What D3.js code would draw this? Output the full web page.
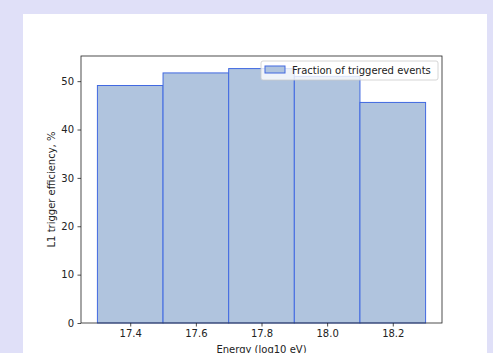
<!DOCTYPE html>
<html>
<head>
<meta charset="utf-8">
<script src="https://cdn.jsdelivr.net/npm/d3@7"></script>
<style>
  html, body { margin: 0; padding: 0; background: #e0e0f8; }
  svg { display: block; }
</style>
</head>
<body>
<svg id="chart" width="493" height="353"></svg>
<script>
// bins of log10(E), 0.2 wide
const binEdges = [17.3, 17.5, 17.7, 17.9, 18.1, 18.3]
const efficiency = [49.1, 51.7, 52.6, 51.0, 45.6]
const xTicks = [17.4, 17.6, 17.8, 18.0, 18.2]
const yTicks = [0, 10, 20, 30, 40, 50]
const legendLabel = "Fraction of triggered events"

const bins = efficiency.map((v, i) => ({ x0: binEdges[i], x1: binEdges[i + 1], value: v }))

const svg = d3.select("#chart")
  .style("font-family", "'DejaVu Sans', sans-serif")

// white figure panel
svg.append("rect")
  .attr("x", 23).attr("y", 14)
  .attr("width", 464).attr("height", 348)
  .attr("fill", "white")

const margin = { top: 56, right: 442, bottom: 323, left: 81 }

const x = d3.scaleLinear()
  .domain([17.25, 18.35])
  .range([margin.left, margin.right])

const y = d3.scaleLinear()
  .domain([0, 55.2])
  .range([margin.bottom, margin.top])

svg.append("g")
  .selectAll("rect")
  .data(bins)
  .join("rect")
  .attr("x", d => x(d.x0))
  .attr("y", d => y(d.value))
  .attr("width", d => x(d.x1) - x(d.x0))
  .attr("height", d => y(0) - y(d.value))
  .attr("fill", "lightsteelblue")
  .attr("stroke", "royalblue")
  .attr("stroke-width", 1)

// axes
const xAxis = svg.append("g")
  .attr("transform", `translate(0,${margin.bottom})`)
  .call(d3.axisBottom(x).tickValues(xTicks).tickFormat(d3.format(".1f")).tickSize(3.5).tickPadding(3.5))
const yAxis = svg.append("g")
  .attr("transform", `translate(${margin.left},0)`)
  .call(d3.axisLeft(y).tickValues(yTicks).tickSize(3.5).tickPadding(3.5))

for (const ax of [xAxis, yAxis]) {
  ax.select(".domain").remove()
  ax.selectAll("text").attr("font-size", 10).attr("fill", "#222").attr("font-family", "'DejaVu Sans', sans-serif")
  ax.selectAll("line").attr("stroke", "#222").attr("stroke-width", 0.8)
}

// frame
svg.append("rect")
  .attr("x", margin.left).attr("y", margin.top)
  .attr("width", margin.right - margin.left)
  .attr("height", margin.bottom - margin.top)
  .attr("fill", "none")
  .attr("stroke", "#222")
  .attr("stroke-width", 0.8)

// axis labels
svg.append("text")
  .attr("x", (margin.left + margin.right) / 2)
  .attr("y", 353)
  .attr("text-anchor", "middle")
  .attr("font-size", 10)
  .attr("fill", "#222")
  .text("Energy (log10 eV)")

svg.append("text")
  .attr("transform", `translate(55,${(margin.top + margin.bottom) / 2}) rotate(-90)`)
  .attr("text-anchor", "middle")
  .attr("font-size", 10)
  .attr("fill", "#222")
  .text("L1 trigger efficiency, %")

// legend
const legend = svg.append("g").attr("transform", "translate(261,61)")
legend.append("rect")
  .attr("width", 177).attr("height", 19)
  .attr("rx", 2)
  .attr("fill", "white").attr("fill-opacity", 0.8)
  .attr("stroke", "#ccc").attr("stroke-width", 0.8)
legend.append("rect")
  .attr("x", 4).attr("y", 5)
  .attr("width", 20).attr("height", 7)
  .attr("fill", "lightsteelblue")
  .attr("stroke", "royalblue")
legend.append("text")
  .attr("x", 31).attr("y", 13)
  .attr("font-size", 10)
  .attr("fill", "#222")
  .text(legendLabel)
</script>
</body>
</html>
